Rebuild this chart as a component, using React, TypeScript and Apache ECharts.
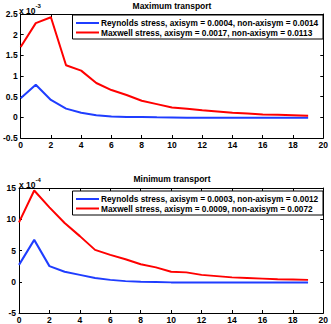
import React, { useEffect, useRef } from "react";
import * as echarts from "echarts";

const xValues = [0, 1, 2, 3, 4, 5, 6, 7, 8, 9, 10, 11, 12, 13, 14, 15, 16, 17, 18, 19];

// Maximum transport (units of 1e-3)
const maxReynolds = [0.46, 0.79, 0.42, 0.21, 0.11, 0.05, 0.02, 0.01, 0.01, 0.0, -0.005, -0.01, -0.01, -0.01, -0.01, -0.01, -0.01, -0.01, -0.01, -0.01];
const maxMaxwell = [1.7, 2.28, 2.42, 1.26, 1.13, 0.83, 0.66, 0.54, 0.4, 0.32, 0.24, 0.21, 0.17, 0.14, 0.11, 0.09, 0.07, 0.06, 0.05, 0.04];

// Minimum transport (units of 1e-4)
const minReynolds = [2.7, 6.7, 2.5, 1.6, 1.1, 0.6, 0.3, 0.1, 0.0, -0.05, -0.1, -0.1, -0.1, -0.1, -0.1, -0.1, -0.1, -0.1, -0.1, -0.1];
const minMaxwell = [9.5, 14.6, 11.9, 9.4, 7.3, 5.1, 4.3, 3.6, 2.8, 2.3, 1.6, 1.5, 1.1, 0.9, 0.7, 0.6, 0.5, 0.4, 0.35, 0.3];

const titles = ["Maximum transport", "Minimum transport"];
const exponents = ["-3", "-4"];
const legendTop = [
  "Reynolds stress, axisym = 0.0004, non-axisym = 0.0014",
  "Maxwell stress, axisym = 0.0017, non-axisym = 0.0113",
];
const legendBottom = [
  "Reynolds stress, axisym = 0.0003, non-axisym = 0.0012",
  "Maxwell stress, axisym = 0.0009, non-axisym = 0.0072",
];

const FONT = "Liberation Sans";
const BLUE = "#1f3dff";
const RED = "#ff0000";

export default function App() {
  const ref = useRef<HTMLDivElement>(null);
  useEffect(() => {
    if (!ref.current) return;
    const chart = echarts.init(ref.current, null, { renderer: "svg" });
    const grids = [
      { left: 19, top: 14, width: 306, height: 124 },
      { left: 19, top: 188, width: 306, height: 125 },
    ];
    const yRanges = [
      { min: -0.5, max: 2.5, interval: 0.5 },
      { min: -5, max: 15, interval: 5 },
    ];
    const label = { fontFamily: FONT, fontSize: 8.5, fontWeight: "bold" as const, color: "#000" };
    const xAxis: any[] = [];
    const yAxis: any[] = [];
    grids.forEach((_, i) => {
      xAxis.push({
        type: "value", gridIndex: i, min: 0, max: 20, interval: 2, position: "bottom",
        axisLine: { onZero: false, lineStyle: { color: "#000", width: 1 } },
        axisTick: { inside: true, length: 3, lineStyle: { color: "#000" } },
        axisLabel: { ...label, margin: 2 },
        splitLine: { show: false },
      });
      xAxis.push({
        type: "value", gridIndex: i, min: 0, max: 20, interval: 2, position: "top",
        axisLine: { onZero: false, lineStyle: { color: "#000", width: 1 } },
        axisTick: { inside: true, length: 3, lineStyle: { color: "#000" } },
        axisLabel: { show: false },
        splitLine: { show: false },
      });
      yAxis.push({
        type: "value", gridIndex: i, ...yRanges[i], position: "left",
        axisLine: { show: true, onZero: false, lineStyle: { color: "#000", width: 1 } },
        axisTick: { show: true, inside: true, length: 3, lineStyle: { color: "#000" } },
        axisLabel: { ...label, margin: 3 },
        splitLine: { show: false },
      });
      yAxis.push({
        type: "value", gridIndex: i, ...yRanges[i], position: "right",
        axisLine: { show: true, onZero: false, lineStyle: { color: "#000", width: 1 } },
        axisTick: { show: true, inside: true, length: 3, lineStyle: { color: "#000" } },
        axisLabel: { show: false },
        splitLine: { show: false },
      });
    });
    const mk = (name: string, data: number[], color: string, i: number) => ({
      name, type: "line", xAxisIndex: i * 2, yAxisIndex: i * 2,
      data: xValues.map((x, k) => [x, data[k]]),
      showSymbol: false, symbol: "none",
      lineStyle: { color, width: 2 }, itemStyle: { color },
    });
    const legendGraphic = (tops: number, names: string[]) => [
      { type: "rect", shape: { x: 72.5, y: tops + 0.5, width: 250.5, height: 24 }, style: { fill: "#fff", stroke: "#000", lineWidth: 1 }, z: 100 },
      { type: "line", shape: { x1: 76, y1: tops + 8.5, x2: 99, y2: tops + 8.5 }, style: { stroke: BLUE, lineWidth: 2 }, z: 101 },
      { type: "line", shape: { x1: 76, y1: tops + 18, x2: 99, y2: tops + 18 }, style: { stroke: RED, lineWidth: 2 }, z: 101 },
      { type: "text", x: 101, y: tops + 8.5, style: { text: names[0], fontFamily: FONT, fontSize: 8.3, fontWeight: "bold", fill: "#000", textVerticalAlign: "middle" }, z: 101 },
      { type: "text", x: 101, y: tops + 18, style: { text: names[1], fontFamily: FONT, fontSize: 8.3, fontWeight: "bold", fill: "#000", textVerticalAlign: "middle" }, z: 101 },
    ];
    chart.setOption({
      animation: false,
      grid: grids,
      xAxis, yAxis,
      series: [
        mk(legendTop[0], maxReynolds, BLUE, 0),
        mk(legendTop[1], maxMaxwell, RED, 0),
        mk(legendBottom[0], minReynolds, BLUE, 1),
        mk(legendBottom[1], minMaxwell, RED, 1),
      ],
      graphic: [
        { type: "text", x: 172, y: 1, style: { text: titles[0], fontFamily: FONT, fontSize: 8.5, fontWeight: "bold", fill: "#000", textAlign: "center" } },
        { type: "text", x: 172, y: 174, style: { text: titles[1], fontFamily: FONT, fontSize: 8.5, fontWeight: "bold", fill: "#000", textAlign: "center" } },
        ...[0, 1].map((i) => ({
          type: "text", x: 19, y: i === 0 ? 3 : 177,
          style: {
            text: "{a|x 10}{b|" + exponents[i] + "}",
            rich: {
              a: { fontFamily: FONT, fontSize: 8.5, fontWeight: "bold", fill: "#000", color: "#000", verticalAlign: "bottom" },
              b: { fontFamily: FONT, fontSize: 6, fontWeight: "bold", fill: "#000", color: "#000", verticalAlign: "top", padding: [0, 0, 6, 0] },
            },
          },
        })),
        ...legendGraphic(14.5, legendTop),
        ...legendGraphic(190.5, legendBottom),
      ],
    });
    return () => chart.dispose();
  }, []);
  return <div ref={ref} style={{ width: 331, height: 324, position: "absolute", left: 0, top: 0, background: "#fff" }} />;
}
